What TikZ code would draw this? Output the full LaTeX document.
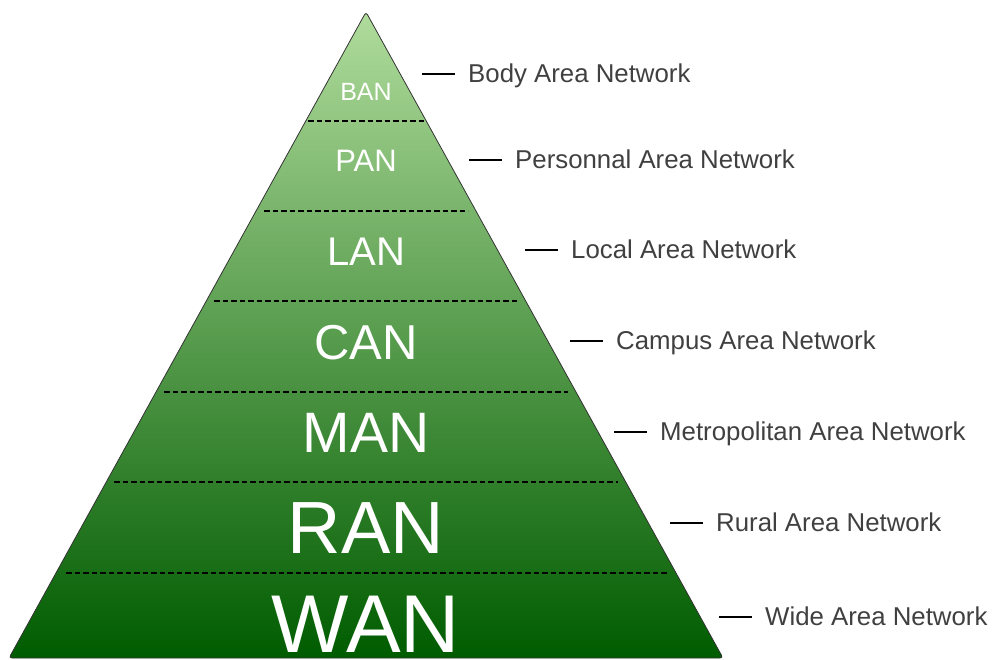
\documentclass[tikz,border=0pt]{standalone}
\usepackage{fontspec}
\setmainfont{Liberation Sans}
\definecolor{gtop}{RGB}{176,220,156}
\definecolor{gbot}{RGB}{0,92,0}
\definecolor{lblgray}{RGB}{64,64,64}
\begin{document}
\begin{tikzpicture}[x=1pt,y=-1pt,
  layer/.style={inner sep=0pt,anchor=base,text=white},
  sep/.style={line width=1.4pt,dash pattern=on 5.5pt off 3pt},
  lbl/.style={inner sep=0pt,anchor=base west,text=lblgray,font=\fontsize{25.8}{30}\selectfont},
  tick/.style={line width=1.3pt,black}]
\useasboundingbox (0,0) rectangle (992,659);
% pyramid
\coordinate (apex) at (366,12);
\coordinate (bl) at (9,658);
\coordinate (br) at (723,658);
\shade[top color=gtop,bottom color=gbot,draw=black!80,line width=0.8pt,rounded corners=3pt]
  (apex) -- (br) -- (bl) -- cycle;
% separators
\coordinate (s1a) at (308,121); \coordinate (s1b) at (424,121);
\coordinate (s2a) at (264,211); \coordinate (s2b) at (468,211);
\coordinate (s3a) at (214,301); \coordinate (s3b) at (518,301);
\coordinate (s4a) at (164,392); \coordinate (s4b) at (568,392);
\coordinate (s5a) at (114,482); \coordinate (s5b) at (618,482);
\coordinate (s6a) at (66,573);  \coordinate (s6b) at (668,573);
\foreach \i in {1,...,6} \draw[sep] (s\i a) -- (s\i b);
% layer names
\node[layer,font=\fontsize{25}{30}\selectfont] (ban) at (366,100) {BAN};
\node[layer,font=\fontsize{31}{36}\selectfont] (pan) at (366,171) {PAN};
\node[layer,font=\fontsize{40}{46}\selectfont] (lan) at (366,265) {LAN};
\node[layer,font=\fontsize{49}{56}\selectfont] (can) at (366,359) {CAN};
\node[layer,font=\fontsize{57}{66}\selectfont] (man) at (366,452) {MAN};
\node[layer,font=\fontsize{74}{84}\selectfont] (ran) at (366,553) {RAN};
\node[layer,font=\fontsize{82}{94}\selectfont] (wan) at (366,652) {WAN};
% side labels
\node[lbl] (tban) at (468,82.5) {Body Area Network};
\node[lbl] (tpan) at (515,168.5) {Personnal Area Network};
\node[lbl] (tlan) at (571,258.5) {Local Area Network};
\node[lbl] (tcan) at (616,349.5) {Campus Area Network};
\node[lbl] (tman) at (660,440.5) {Metropolitan Area Network};
\node[lbl] (tran) at (716,531) {Rural Area Network};
\node[lbl] (twan) at (765,625.5) {Wide Area Network};
\foreach \n/\y in {tban/74,tpan/160,tlan/250,tcan/341,tman/432,tran/523,twan/617}
  \draw[tick] ([xshift=-46pt]\n.base west |- 0,\y) -- ([xshift=-13pt]\n.base west |- 0,\y);
\end{tikzpicture}
\end{document}
